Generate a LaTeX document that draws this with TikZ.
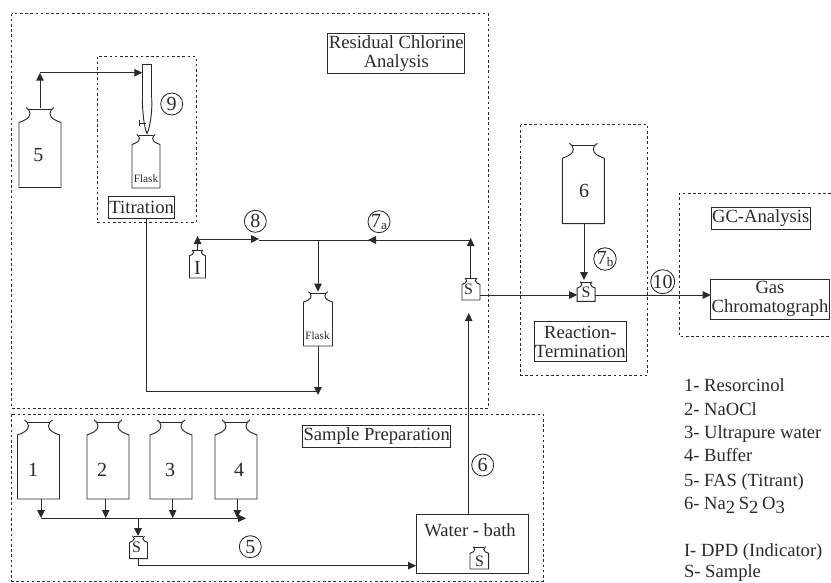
\documentclass[tikz,border=0pt]{standalone}
\usepackage{fontspec}
\setmainfont{Liberation Serif}
\usetikzlibrary{arrows.meta,calc}
\definecolor{ink}{HTML}{2A2A2A}
\newcommand{\szA}{\fontsize{18.6}{20}\selectfont}
\newcommand{\szB}{\fontsize{11.2}{12}\selectfont}
\newcommand{\szS}{\fontsize{16}{16}\selectfont}
\tikzset{
  x=1pt,y=-1pt,
  every node/.style={text=ink,inner sep=0pt,outer sep=0pt},
  line/.style={draw=ink,line width=0.95pt},
  arr/.style={line,-{Triangle[length=8pt,width=7.5pt]}},
  zone/.style={draw=ink,line width=0.9pt,dash pattern=on 2.6pt off 2.6pt},
  titlebox/.style={draw=ink,line width=0.95pt,font=\szA,align=center},
  numring/.style={draw=ink,line width=0.85pt,circle,minimum size=22pt,font=\fontsize{20}{20}\selectfont},
  glass/.style={font=\fontsize{20}{20}\selectfont},
  legend/.style={font=\szA,anchor=base west},
}
% name, centre x, top, half width, bottom
\newcommand{\bottle}[5]{%
  \pgfmathsetmacro{\bs}{#4/21}%
  \pgfmathsetmacro{\bb}{(#5-#3)/\bs}%
  \pgfmathsetmacro{\bcy}{(#3+#5)/2}%
  \pgfmathsetmacro{\bw}{2*#4}%
  \pgfmathsetmacro{\bh}{#5-#3}%
  \node[minimum width=\bw pt,minimum height=\bh pt] (#1) at (#2,\bcy) {};
  \begin{scope}[shift={(#2pt,-#3pt)},x=\bs pt,y=-\bs pt]
    \draw[line,line join=miter] (-14,0) .. controls (-12,1) and (-10,3) .. (-10,6)
      .. controls (-10,11) and (-16,13) .. (-21,15) -- (-21,\bb) -- (21,\bb) -- (21,15)
      .. controls (16,13) and (10,11) .. (10,6) .. controls (10,3) and (12,1) .. (14,0);
    \draw[line] (-11,2) -- (11,2);
  \end{scope}}
\begin{document}
\begin{tikzpicture}
\useasboundingbox (0,0) rectangle (831,582);
% zones
\draw[zone] (11.5,13.5) rectangle (488.3,408);
\draw[zone] (11.5,414) rectangle (543,581);
\draw[zone] (97,56.5) rectangle (196,222.5);
\draw[zone] (520.7,124.7) rectangle (647.7,375);
\draw[zone] (831,193.3) -- (679,193.3) -- (679,336) -- (831,336);
% bottles
\bottle{b5}{40}{107.5}{21}{187.5}
\bottle{fT}{146}{134.5}{14}{188}
\bottle{fM}{318}{291.7}{14.5}{346}
\bottle{bI}{197.5}{250}{8}{278}
\bottle{sU}{471}{278}{9}{300}
\bottle{b1}{38.5}{420}{21}{499}
\bottle{b2}{108}{420}{21}{499}
\bottle{b3}{171}{420}{21}{499}
\bottle{b4}{236}{420}{21}{499}
\bottle{sL}{138.5}{536}{9}{558.7}
\bottle{sW}{479.3}{546.7}{9.3}{569}
\bottle{b6}{583.3}{143.3}{21}{223.7}
\bottle{sR}{586.2}{281.7}{9}{301.3}
% bottle labels
\node[glass] (l5) at (38.5,155) {5};
\node[font=\szB] (lfT) at (146,179) {Flask};
\node[font=\szB] (lfM) at (317.5,336) {Flask};
\node[glass] (lI) at (197.5,268) {I};
\node[font=\szS] (lsU) at (468.5,289) {S};
\node[glass] (l1) at (33,470) {1};
\node[glass] (l2) at (102,470) {2};
\node[glass] (l3) at (170,470) {3};
\node[glass] (l4) at (239,470) {4};
\node[font=\szS] (lsL) at (136.5,547) {S};
\node[font=\szS] (lsW) at (479.5,561) {S};
\node[glass] (l6) at (584,191) {6};
\node[font=\szS] (lsR) at (586,292) {S};
% titles
\node[titlebox,minimum width=136.7pt,minimum height=40.5pt] (tRes) at (396.3,53.7) {Residual Chlorine\\[-1pt]Analysis};
\node[titlebox,minimum width=65.5pt,minimum height=22pt] (tTit) at (141.7,207.5) {Titration};
\node[titlebox,minimum width=148pt,minimum height=21.6pt] (tSam) at (376.7,436.5) {Sample Preparation};
\node[titlebox,minimum width=98.7pt,minimum height=21.7pt] (tGC) at (760.7,218.2) {GC-Analysis};
\node[titlebox,minimum width=118.6pt,minimum height=40.3pt] (gas) at (770,299.2) {Gas\\[-1pt]Chromatograph};
\node[titlebox,minimum width=92pt,minimum height=40.4pt] (tRea) at (580.3,341.5) {Reaction-\\[-1pt]Termination};
\node[titlebox,minimum width=112pt,minimum height=59pt] (wb) at (472,544.2) {};
\node[font=\szA] (wbt) at (470,530) {Water - bath};
% burette
\node[minimum width=9.4pt,minimum height=34pt] (bur) at (147,81.3) {};
\draw[line] (bur.south west) -- (bur.north west) -- (bur.north east) -- (bur.south east);
\coordinate (burtip) at (147,133.5);
\draw[line] (bur.south west) .. controls (142.5,112) and (144,127) .. (burtip) .. controls (150,127) and (152.5,112) .. (bur.south east);
\coordinate (cockR) at (146,123);
\coordinate (cockL) at (139.7,123);
\draw[line] (cockL) -- (cockR);
\draw[line] ($(cockL)+(0,-2.7)$) -- ($(cockL)+(0,2.7)$);
% connectors
\coordinate (c5) at (40,72.7);
\draw[arr] (b5.north) -- (c5);
\draw[arr] (c5) -- (c5 -| bur.west);
\coordinate (tl) at (197.6,239);
\coordinate (tltip) at (197.6,236);
\draw[arr] (bI.north) -- (tltip);
\coordinate (t8) at (259,239);
\draw[arr] (tl) -- (t8);
\coordinate (tr) at (470.7,240);
\coordinate (trtip) at (470.7,238);
\coordinate (tm) at (318,240);
\draw[line] (t8 |- tr) -- (tr);
\coordinate (t7) at (368,240);
\draw[arr] (tr) -- (t7);
\draw[arr] (sU.north -| tr) -- (trtip);
\draw[arr] (tm) -- (fM.north);
\coordinate (fMtip) at (318,395);
\draw[arr] (fM.south) -- (fMtip);
\coordinate (tb) at (146.3,391.7);
\draw[line] (tTit.south -| tb) -- (tb) -- (tb -| fM.south);
\coordinate (wbtop) at (468.7,514.7);
\coordinate (wbtip) at (468.7,313);
\draw[arr] (wbtop) -- (wbtip);
\coordinate (su1) at (480,295);
\draw[arr] (su1) -- (su1 -| sR.west);
\draw[arr] (su1 -| sR.east) -- (su1 -| gas.west);
\coordinate (b6out) at (584,223.7);
\coordinate (b6in) at (584,280);
\draw[arr] (b6out) -- (b6in);
% sample prep
\foreach \n/\x in {b1/41,b2/105.7,b3/172.7,b4/237.3}{
  \coordinate (up) at (\x,499);
  \coordinate (dn) at (\x,518);
  \draw[arr] (up) -- (dn);
}
\coordinate (hl) at (41,518.3);
\coordinate (hr) at (246,518.3);
\draw[arr] (hl) -- (hr);
\coordinate (jn) at (138,518);
\coordinate (jt) at (138,536);
\draw[arr] (jn) -- (jt);
\coordinate (sb) at (138.5,565.7);
\draw[line] (sL.south) -- (sb);
\draw[arr] (sb) -- (sb -| wb.west);
% circled numbers
\node[numring] (m9) at (171.7,104) {9};
\node[numring] (m8) at (255.3,221.3) {8};
\node[numring] (m7a) at (379,221.7) {7{\raisebox{-2pt}{\fontsize{13}{13}\selectfont a}}};
\node[numring] (m7b) at (605,259) {7{\raisebox{-2pt}{\fontsize{13}{13}\selectfont b}}};
\node[numring] (m10) at (662.7,281.7) {10};
\node[numring] (m6) at (482.7,465) {6};
\node[numring] (m5) at (250.3,546.7) {5};
% legend
\node[legend] (k1) at (684,391.7) {1- Resorcinol};
\node[legend] (k2) at (684,415) {2- NaOCl};
\node[legend] (k3) at (684,438.3) {3- Ultrapure water};
\node[legend] (k4) at (684,461.7) {4- Buffer};
\node[legend] (k5) at (684,486) {5- FAS (Titrant)};
\node[legend] (k6) at (684,509) {6- Na{\raisebox{-4pt}{2}}\hspace{-1pt} S{\raisebox{-4pt}{2}}\hspace{-1pt} O{\raisebox{-4pt}{3}}};
\node[legend] (kI) at (684,556) {I- DPD (Indicator)};
\node[legend] (kS) at (684,577) {S- Sample};
\end{tikzpicture}
\end{document}
